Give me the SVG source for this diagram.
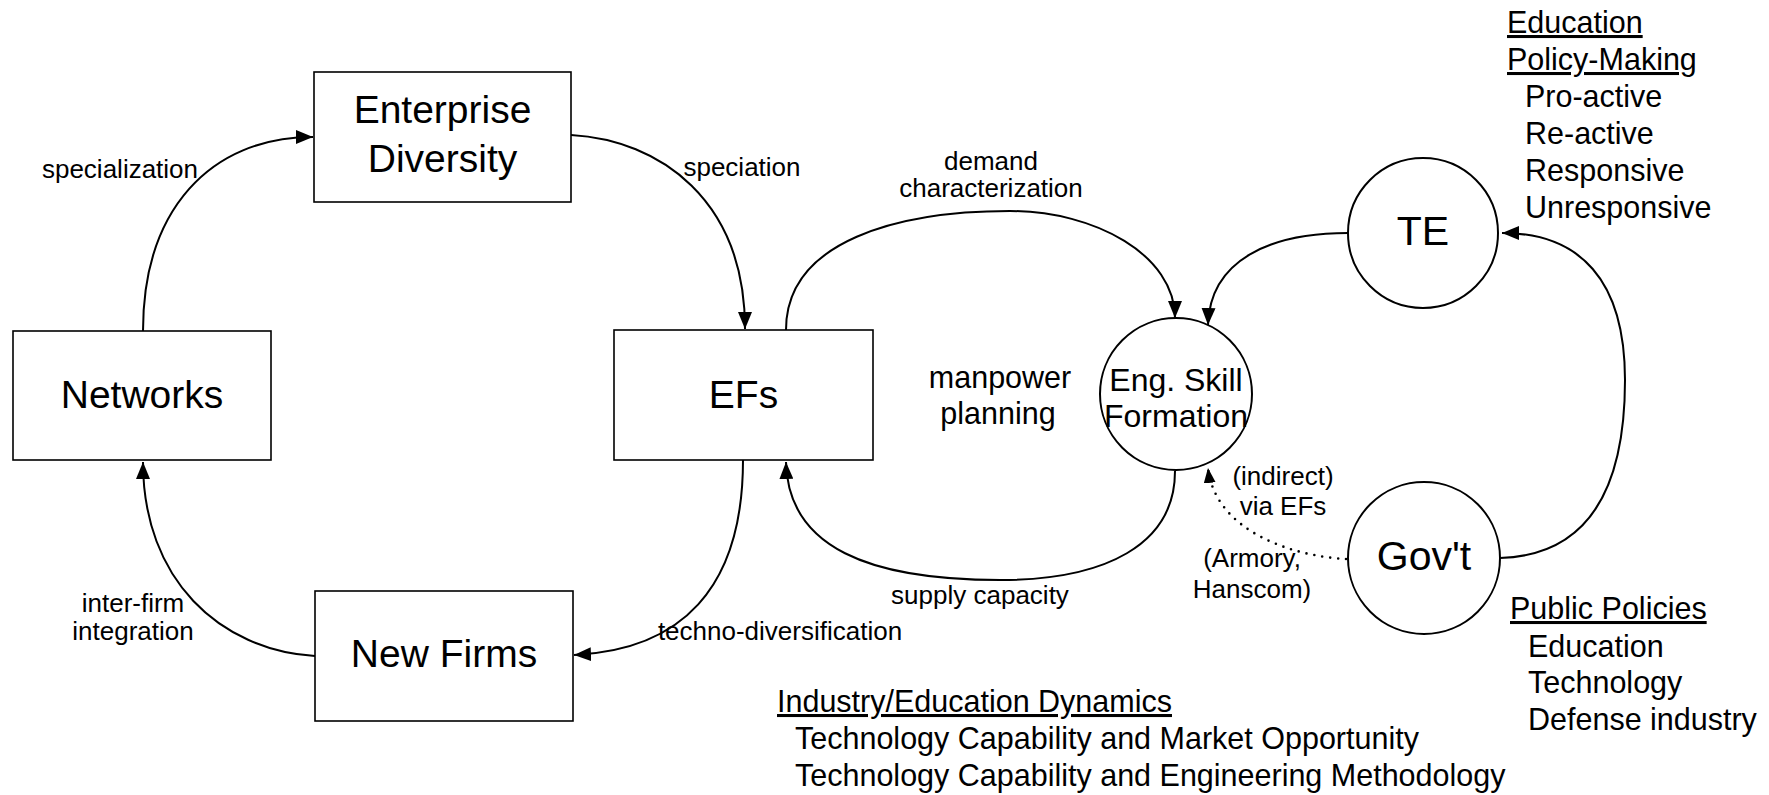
<svg xmlns="http://www.w3.org/2000/svg" width="1769" height="795" viewBox="0 0 1769 795">
  <style>
    text { font-family: "Liberation Sans", Arial, sans-serif; fill: #000; }
    .box { fill: #fff; stroke: #000; stroke-width: 1.6; }
    .circ { fill: none; stroke: #000; stroke-width: 2; }
    .big { font-size: 39px; text-anchor: middle; }
    .mid { font-size: 32px; text-anchor: middle; }
    .lbl { font-size: 26px; text-anchor: middle; }
    .list { font-size: 30.5px; }
    .ul { text-decoration: underline; }
    .edge { fill: none; stroke: #000; stroke-width: 2; }
    .dots { fill: none; stroke: #000; stroke-width: 2.6; stroke-linecap: round; stroke-dasharray: 0 8; }
  </style>
  <defs>
    <marker id="arrow" markerUnits="userSpaceOnUse" markerWidth="18" markerHeight="14" refX="17" refY="7" orient="auto">
      <path d="M0,0 L17,7 L0,14 z" fill="#000"/>
    </marker>
    <marker id="arrowSmall" markerUnits="userSpaceOnUse" markerWidth="16" markerHeight="12" refX="15" refY="6" orient="auto">
      <path d="M0,0 L15,6 L0,12 z" fill="#000"/>
    </marker>
  </defs>

  <rect width="1769" height="795" fill="#fff"/>

  <!-- connectors -->
  <g id="connectors">
    <path class="edge" d="M143,331 C143,210 210,137 313,137" marker-end="url(#arrow)"/>
    <path class="edge" d="M571,135 C660,140 745,200 745,329" marker-end="url(#arrow)"/>
    <path class="edge" d="M743,460 C743,590 680,650 574,655" marker-end="url(#arrow)"/>
    <path class="edge" d="M315,656 C220,650 143,580 143,462" marker-end="url(#arrow)"/>
    <path class="edge" d="M786,330 C786,240 900,211 1010,211 C1095,211 1175,255 1175,318" marker-end="url(#arrow)"/>
    <path class="edge" d="M1175,471 C1175,545 1105,580 1000,580 C870,580 788,548 786,462" marker-end="url(#arrow)"/>
    <path class="edge" d="M1348,233 C1270,233 1210,260 1208,325" marker-end="url(#arrow)"/>
    <path class="dots" d="M1346,559 C1290,556 1215,530 1208,468" marker-end="url(#arrowSmall)"/>
    <path class="edge" d="M1500,558 C1600,555 1625,470 1625,380 C1625,280 1580,233 1502,233" marker-end="url(#arrow)"/>

    <text class="lbl" x="120" y="178">specialization</text>
    <text class="lbl" x="742" y="176">speciation</text>
    <text class="lbl" x="991" y="170">demand</text>
    <text class="lbl" x="991" y="197">characterization</text>
    <text class="lbl" x="133" y="612">inter-firm</text>
    <text class="lbl" x="133" y="640">integration</text>
    <text class="lbl" x="780" y="640">techno-diversification</text>
    <text class="lbl" x="980" y="604">supply capacity</text>
    <text class="lbl" x="1283" y="485">(indirect)</text>
    <text class="lbl" x="1283" y="515">via EFs</text>
    <text class="lbl" x="1252" y="567">(Armory,</text>
    <text class="lbl" x="1252" y="598">Hanscom)</text>
    <text class="list" x="1000" y="388" text-anchor="middle">manpower</text>
    <text class="list" x="998" y="424" text-anchor="middle">planning</text>
  </g>

  <!-- nodes -->
  <g id="enterprise-diversity">
    <rect class="box" x="314" y="72" width="257" height="130"/>
    <text class="big" x="442.5" y="123">Enterprise</text>
    <text class="big" x="442.5" y="172">Diversity</text>
  </g>
  <g id="networks">
    <rect class="box" x="13" y="331" width="258" height="129"/>
    <text class="big" x="142" y="408">Networks</text>
  </g>
  <g id="efs">
    <rect class="box" x="614" y="330" width="259" height="130"/>
    <text class="big" x="743.5" y="408">EFs</text>
  </g>
  <g id="new-firms">
    <rect class="box" x="315" y="591" width="258" height="130"/>
    <text class="big" x="444" y="667">New Firms</text>
  </g>
  <g id="eng-skill-formation">
    <circle class="circ" cx="1176" cy="394" r="76"/>
    <text class="mid" x="1176" y="391">Eng. Skill</text>
    <text class="mid" x="1176" y="427">Formation</text>
  </g>
  <g id="te">
    <circle class="circ" cx="1423" cy="233" r="75"/>
    <text class="big" x="1423" y="245" style="font-size:41px">TE</text>
  </g>
  <g id="govt">
    <circle class="circ" cx="1424" cy="558" r="76"/>
    <text class="big" x="1424" y="570" style="font-size:41px">Gov't</text>
  </g>

  <!-- annotation lists -->
  <g id="education-policy">
    <text class="list ul" x="1507" y="33">Education</text>
    <text class="list ul" x="1507" y="70">Policy-Making</text>
    <text class="list" x="1525" y="107">Pro-active</text>
    <text class="list" x="1525" y="144">Re-active</text>
    <text class="list" x="1525" y="181">Responsive</text>
    <text class="list" x="1525" y="218">Unresponsive</text>
  </g>
  <g id="public-policies">
    <text class="list ul" x="1510" y="619">Public Policies</text>
    <text class="list" x="1528" y="657">Education</text>
    <text class="list" x="1528" y="693">Technology</text>
    <text class="list" x="1528" y="730">Defense industry</text>
  </g>
  <g id="industry-education">
    <text class="list ul" x="777" y="712">Industry/Education Dynamics</text>
    <text class="list" x="795" y="749">Technology Capability and Market Opportunity</text>
    <text class="list" x="795" y="786">Technology Capability and Engineering Methodology</text>
  </g>
</svg>
